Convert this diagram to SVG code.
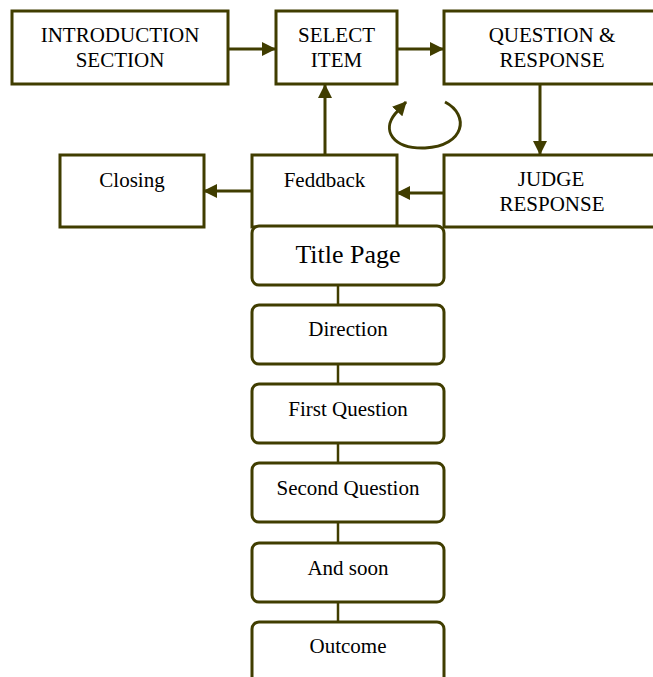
<svg xmlns="http://www.w3.org/2000/svg" width="653" height="677" viewBox="0 0 653 677">
<style>
  .box { fill: #ffffff; stroke: #403d00; stroke-width: 3; }
  .rbox { fill: #ffffff; stroke: #403d00; stroke-width: 3; }
  .line { fill: none; stroke: #403d00; stroke-width: 3; }
  .link { fill: none; stroke: #403d00; stroke-width: 2.5; }
  text { font-family: "Liberation Serif", "Times New Roman", serif; font-size: 21px; fill: #000000; text-anchor: middle; }
  .big { font-size: 26px; }
</style>
<defs>
  <marker id="arrow" markerWidth="14" markerHeight="14" refX="13" refY="7" orient="auto" markerUnits="userSpaceOnUse">
    <path d="M0,0 L14,7 L0,14 Z" fill="#403d00"/>
  </marker>
</defs>
<rect width="653" height="677" fill="#ffffff"/>

<g id="connectors">
  <line class="line" x1="229" y1="49" x2="275" y2="49" marker-end="url(#arrow)"/>
  <line class="line" x1="398" y1="49" x2="443" y2="49" marker-end="url(#arrow)"/>
  <line class="line" x1="540" y1="84" x2="540" y2="154" marker-end="url(#arrow)"/>
  <line class="line" x1="443" y1="193" x2="397" y2="193" marker-end="url(#arrow)"/>
  <line class="line" x1="251" y1="191" x2="204" y2="191" marker-end="url(#arrow)"/>
  <line class="line" x1="325" y1="154" x2="325" y2="85" marker-end="url(#arrow)"/>
  <path class="line" d="M445,102 C470,115 465,146 425,148 C392,149 382,130 395,114 L406,102" marker-end="url(#arrow)"/>
  <line class="link" x1="338" y1="285" x2="338" y2="305"/>
  <line class="link" x1="338" y1="364" x2="338" y2="384"/>
  <line class="link" x1="338" y1="443" x2="338" y2="463"/>
  <line class="link" x1="338" y1="522" x2="338" y2="543"/>
  <line class="link" x1="338" y1="602" x2="338" y2="622"/>
</g>

<g id="intro">
  <rect class="box" x="12" y="11" width="216" height="73"/>
  <text x="120" y="42">INTRODUCTION</text>
  <text x="120" y="67">SECTION</text>
</g>
<g id="select">
  <rect class="box" x="276" y="11" width="121" height="73"/>
  <text x="336.5" y="42">SELECT</text>
  <text x="336.5" y="67">ITEM</text>
</g>
<g id="question">
  <rect class="box" x="444" y="11" width="217" height="73"/>
  <text x="552" y="42">QUESTION &amp;</text>
  <text x="552" y="67">RESPONSE</text>
</g>
<g id="judge">
  <rect class="box" x="444" y="155" width="217" height="72"/>
  <text x="551" y="186">JUDGE</text>
  <text x="552" y="211">RESPONSE</text>
</g>
<g id="closing">
  <rect class="box" x="60" y="155" width="144" height="72"/>
  <text x="132" y="187">Closing</text>
</g>
<g id="feedback">
  <rect class="box" x="252" y="155" width="145" height="72"/>
  <text x="324.5" y="187">Feddback</text>
</g>

<g id="title-page">
  <rect class="rbox" x="252" y="226" width="192" height="59" rx="7"/>
  <text class="big" x="348" y="263">Title Page</text>
</g>
<g id="direction">
  <rect class="rbox" x="252" y="305" width="192" height="59" rx="7"/>
  <text x="348" y="336">Direction</text>
</g>
<g id="first-question">
  <rect class="rbox" x="252" y="384" width="192" height="59" rx="7"/>
  <text x="348" y="416">First Question</text>
</g>
<g id="second-question">
  <rect class="rbox" x="252" y="463" width="192" height="59" rx="7"/>
  <text x="348" y="495">Second Question</text>
</g>
<g id="and-soon">
  <rect class="rbox" x="252" y="543" width="192" height="59" rx="7"/>
  <text x="348" y="575">And soon</text>
</g>
<g id="outcome">
  <rect class="rbox" x="252" y="622" width="192" height="70" rx="7"/>
  <text x="348" y="653">Outcome</text>
</g>
</svg>
